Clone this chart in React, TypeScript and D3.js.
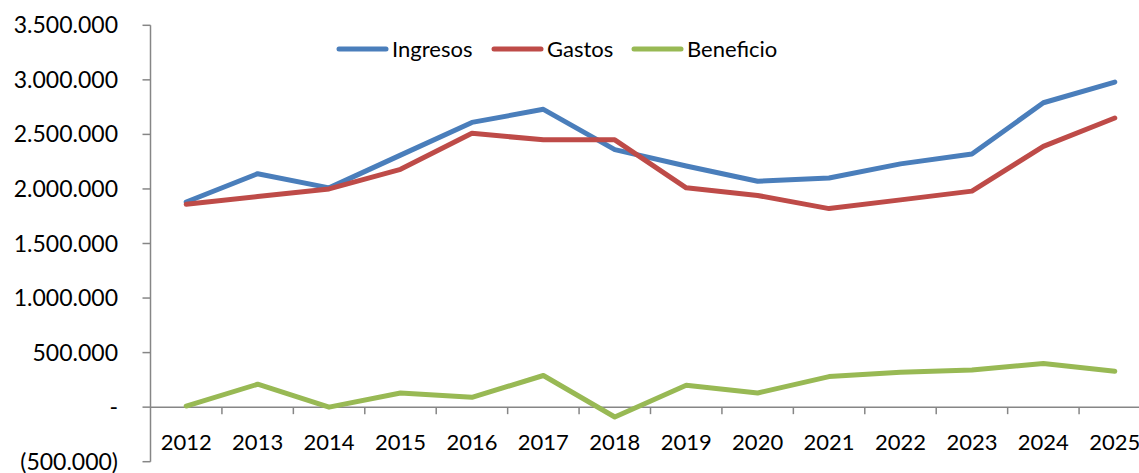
import React from "react";
import * as d3 from "d3";

const years = ["2012", "2013", "2014", "2015", "2016", "2017", "2018", "2019", "2020", "2021", "2022", "2023", "2024", "2025"];
const ingresos = [1880000, 2140000, 2010000, 2310000, 2610000, 2730000, 2360000, 2210000, 2070000, 2100000, 2230000, 2320000, 2790000, 2980000];
const gastos = [1860000, 1930000, 2000000, 2180000, 2510000, 2450000, 2450000, 2010000, 1940000, 1820000, 1900000, 1980000, 2390000, 2650000];
const beneficio = [10000, 210000, 0, 130000, 90000, 290000, -90000, 200000, 130000, 280000, 320000, 340000, 400000, 330000];
const yTicks = [-500000, 0, 500000, 1000000, 1500000, 2000000, 2500000, 3000000, 3500000];

const series = [
  { name: "Ingresos", values: ingresos, color: "#4A7EBB" },
  { name: "Gastos", values: gastos, color: "#BE4B48" },
  { name: "Beneficio", values: beneficio, color: "#98B954" },
];

const fmt = (v: number) => {
  if (v === 0) return "-";
  const s = d3.format(",")(Math.abs(v)).replace(/,/g, ".");
  return v < 0 ? `(${s})` : s;
};

const App = () => {
  const width = 1139;
  const height = 473;
  const left = 150.5;
  const right = 1150.5;

  const x = d3.scaleBand().domain(years).range([left, right]);
  const y = d3.scaleLinear().domain([-500000, 3500000]).range([461.7, 25.3]);

  const line = d3
    .line<number>()
    .x((_, i) => (x(years[i]) as number) + x.bandwidth() / 2)
    .y(d => y(d));

  const legendX = [339, 494, 634];
  const font = "Lato, 'Open Sans', sans-serif";

  return (
    <svg width={width} height={height} style={{ position: "absolute", left: 0, top: 0 }} fontFamily={font}>
      <rect width={width} height={height} fill="#fff" />
      {/* y axis */}
      <line x1={left} x2={left} y1={y(3500000)} y2={y(-500000)} stroke="#868686" strokeWidth={1.5} />
      {yTicks.map(t => (
        <g key={t}>
          <line x1={left - 8} x2={left} y1={y(t)} y2={y(t)} stroke="#868686" strokeWidth={1.5} />
          <text x={118} y={y(t)} dy="0.35em" textAnchor="end" fontSize={23} fill="#000">
            {fmt(t)}
          </text>
        </g>
      ))}
      {/* x axis at zero */}
      <line x1={left} x2={right} y1={y(0)} y2={y(0)} stroke="#868686" strokeWidth={1.5} />
      {years.map(yr => (
        <g key={yr}>
          <line
            x1={(x(yr) as number) + x.bandwidth()}
            x2={(x(yr) as number) + x.bandwidth()}
            y1={y(0)}
            y2={y(0) + 7}
            stroke="#868686"
            strokeWidth={1.5}
          />
          <text x={(x(yr) as number) + x.bandwidth() / 2} y={450} textAnchor="middle" fontSize={22} fill="#000">
            {yr}
          </text>
        </g>
      ))}
      {series.map(s => (
        <path
          key={s.name}
          d={line(s.values) || ""}
          fill="none"
          stroke={s.color}
          strokeWidth={5}
          strokeLinejoin="round"
          strokeLinecap="round"
        />
      ))}
      {series.map((s, i) => (
        <g key={s.name} transform={`translate(${legendX[i]},49)`}>
          <line x1={0} x2={47} y1={0} y2={0} stroke={s.color} strokeWidth={5} strokeLinecap="round" />
          <text x={53} y={0} dy="0.35em" fontSize={22} fill="#000">
            {s.name}
          </text>
        </g>
      ))}
    </svg>
  );
};

export default App;
